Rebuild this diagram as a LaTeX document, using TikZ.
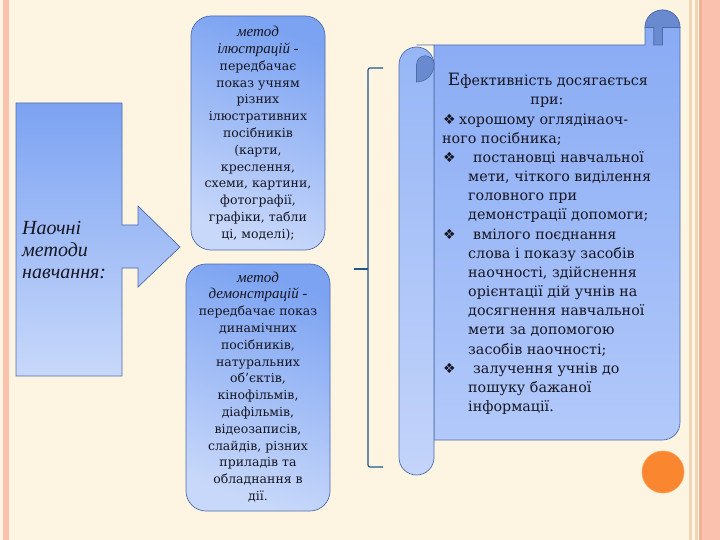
\documentclass[tikz,border=0pt]{standalone}
\usepackage{fontspec}
\setmainfont{DejaVu Serif}
\newfontfamily\symfont{DejaVu Sans}
\newfontfamily\itf{Liberation Serif}
\definecolor{bgc}{RGB}{253,244,225}
\definecolor{pinkc}{RGB}{250,194,174}
\definecolor{tanc}{RGB}{238,214,186}
\definecolor{orline}{RGB}{242,178,146}
\definecolor{blueTop}{RGB}{124,163,242}
\definecolor{blueBot}{RGB}{200,216,250}
\definecolor{edgec}{RGB}{78,108,170}
\definecolor{scrollTop}{RGB}{136,170,244}
\definecolor{scrollBot}{RGB}{178,201,250}
\definecolor{stripTop}{RGB}{150,182,246}
\definecolor{stripBot}{RGB}{196,212,250}
\definecolor{curlc}{RGB}{106,138,208}
\definecolor{bracec}{RGB}{32,86,136}
\definecolor{orangec}{RGB}{250,134,48}
\definecolor{txtc}{RGB}{22,22,34}
\begin{document}
\begin{tikzpicture}[x=1pt,y=-1pt,
  shapeline/.style={draw=edgec, line width=0.7pt},
  midtext/.style={anchor=base, align=center, font=\fontsize{12.5}{16.8}\selectfont, text=txtc, inner sep=0pt},
  mit/.style={},
  rline/.style={anchor=base west, inner sep=0pt, font=\fontsize{14.3}{19}\selectfont, text=txtc},
  rtitle/.style={anchor=base, inner sep=0pt, font=\fontsize{14.3}{19}\selectfont, text=txtc},
  bul/.style={anchor=base west, inner sep=0pt, font=\symfont\fontsize{14}{16}\selectfont, text=txtc},
  bracestyle/.style={draw=bracec, line width=1.1pt},
]
\newcommand\midit[1]{{\itf\itshape\fontsize{15}{16.8}\selectfont #1}}
\useasboundingbox (0,0) rectangle (720,540);
% background and borders
\fill[bgc] (0,0) rectangle (720,540);
\fill[pinkc] (3,0) rectangle (8.5,540);
\fill[tanc] (689,0) rectangle (692,540);
\fill[tanc] (695,0) rectangle (697.5,540);
\fill[orline] (699,0) rectangle (702,540);
\fill[pinkc] (702,0) rectangle (720,540);

% left block with arrow
\path[shapeline, top color=blueTop, bottom color=blueBot]
  (16,103) -- (122,103) -- (122,225) -- (138,225) -- (138,206) -- (180,247)
  -- (138,287) -- (138,268) -- (122,268) -- (122,376) -- (16,376) -- cycle;
\node[anchor=west, align=left, inner sep=0pt, text=txtc,
  font=\itf\itshape\fontsize{20}{22}\selectfont] (lt) at (22,250) {Наочні\\методи\\навчання:};

% middle boxes
\path[shapeline, rounded corners=20pt, top color=blueTop, bottom color=blueBot, shading angle=-20]
  (191,16) rectangle (325,250);
\path[shapeline, rounded corners=20pt, top color=blueTop, bottom color=blueBot, shading angle=-20]
  (186,264) rectangle (330,511);
\node[midtext] (m1) at (258,238.4) {\midit{метод}\\\midit{ілюстрацій -}\\передбачає\\показ учням\\різних\\ілюстративних\\посібників\\(карти,\\креслення,\\схеми, картини,\\фотографії,\\графіки, табли\\ці, моделі);};
\node[midtext] (m2) at (258,500.4) {\midit{метод}\\\midit{демонстрацій -}\\передбачає показ\\динамічних\\посібників,\\натуральних\\об'єктів,\\кінофільмів,\\діафільмів,\\відеозаписів,\\слайдів, різних\\приладів та\\обладнання в\\дії.};

% bracket
\coordinate (bt) at (383,68);
\coordinate (bb) at (383,467);
\coordinate (bm) at (354,269);
\draw[bracestyle, rounded corners=2pt] (bt) -- (368,68) -- (368,467) -- (bb);
\draw[bracestyle] (368,269) -- (bm);

% scroll
\path[shapeline, top color=scrollTop, bottom color=scrollBot]
  (416.5,45) -- (645,45) -- (645,27.5) arc[start angle=180, end angle=360, radius=17.5]
  -- (680,422.5) arc[start angle=0, end angle=90, radius=17.5] -- (434,440) -- (434,45) -- cycle;
% top right curl
\path[draw=edgec, line width=0.6pt, fill=curlc] (645,27.5) arc[start angle=180, end angle=360, radius=17.5]
  -- (662.5,27.5) -- (662.5,45) -- (653.75,45) -- (653.75,27.5) -- cycle;
% left strip
\path[shapeline, top color=stripTop, bottom color=stripBot]
  (434,64.5) -- (434,457.5) arc[start angle=0, end angle=180, radius=17.5]
  -- (399,64.5) arc[start angle=180, end angle=360, radius=17.5] -- cycle;
\path[draw=edgec, line width=0.6pt, fill=curlc] (416.5,82) -- (416.5,64.5)
  arc[start angle=180, end angle=360, radius=8.75]
  arc[start angle=0, end angle=90, radius=17.5] -- cycle;

% scroll text
\node[rtitle] (t1) at (548,85.6) {{\fontsize{17}{19}\selectfont Е}фективність досягається};
\node[rtitle] (t2) at (547,104.6) {при:};
\node[bul] (b1) at (443,124.1) {❖};
\node[rline] (l1) at (459,124.1) {хорошому оглядінаоч-};
\node[rline] (l2) at (442,143.1) {ного посібника;};
\node[bul] (b2) at (443,162.6) {❖};
\node[rline] (l3) at (473,162.6) {постановці навчальної};
\node[rline] (l4) at (468,181.6) {мети, чіткого виділення};
\node[rline] (l5) at (468,200.6) {головного при};
\node[rline] (l6) at (468,219.6) {демонстрації допомоги;};
\node[bul] (b3) at (443,239.6) {❖};
\node[rline] (l7) at (473,239.6) {вмілого поєднання};
\node[rline] (l8) at (468,258.6) {слова і показу засобів};
\node[rline] (l9) at (468,277.6) {наочності, здійснення};
\node[rline] (l10) at (468,296.6) {орієнтації дій учнів на};
\node[rline] (l11) at (468,315.6) {досягнення навчальної};
\node[rline] (l12) at (468,334.6) {мети за допомогою};
\node[rline] (l13) at (468,354.1) {засобів наочності;};
\node[bul] (b4) at (443,373.1) {❖};
\node[rline] (l14) at (473,373.1) {залучення учнів до};
\node[rline] (l15) at (468,392.1) {пошуку бажаної};
\node[rline] (l16) at (468,411.6) {інформації.};

% orange dot
\path[fill=orangec, draw=orangec!80!white, line width=0.6pt] (663,472) circle (21);
\end{tikzpicture}
\end{document}
